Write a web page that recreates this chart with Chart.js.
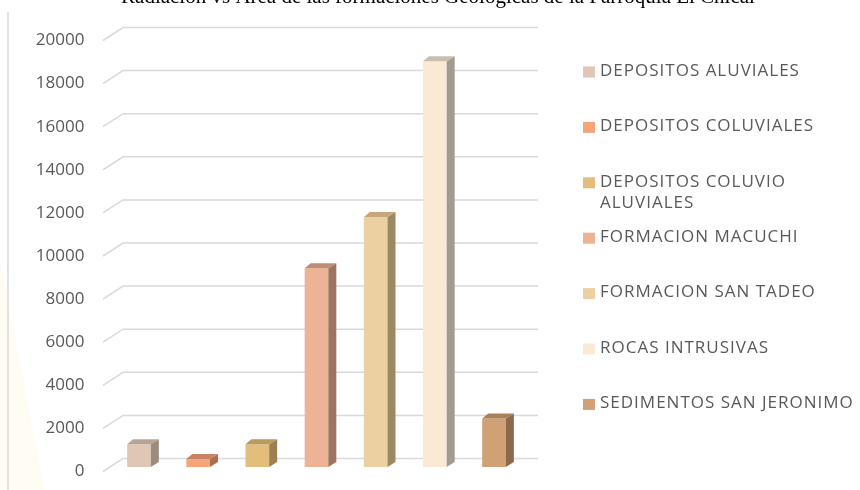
<!DOCTYPE html>
<html>
<head>
<meta charset="utf-8">
<script src="https://cdn.jsdelivr.net/npm/chart.js@4.4.0/dist/chart.umd.min.js"></script>
<style>
    html, body { margin: 0; padding: 0; background: #fff; }
    #wrap { position: relative; width: 860px; height: 490px; }
</style>
</head>
<body>
<div id="wrap"><canvas id="barChart" width="860" height="490"></canvas></div>
<script>
// datos
var chartTitle = 'Radiación vs Área de las formaciones Geológicas de la Parroquia El Chical';
var formaciones = ['DEPOSITOS ALUVIALES', 'DEPOSITOS COLUVIALES', 'DEPOSITOS COLUVIO ALUVIALES',
    'FORMACION MACUCHI', 'FORMACION SAN TADEO', 'ROCAS INTRUSIVAS', 'SEDIMENTOS SAN JERONIMO'];
var legendLines = [['DEPOSITOS ALUVIALES'], ['DEPOSITOS COLUVIALES'], ['DEPOSITOS COLUVIO', 'ALUVIALES'],
    ['FORMACION MACUCHI'], ['FORMACION SAN TADEO'], ['ROCAS INTRUSIVAS'], ['SEDIMENTOS SAN JERONIMO']];
var areas = [1060, 370, 1060, 9220, 11600, 18830, 2250];
var yTicks = [0, 2000, 4000, 6000, 8000, 10000, 12000, 14000, 16000, 18000, 20000];

// colores
var frontColors = ['#e0c6b4', '#f5a47c', '#e3bd7b', '#edb394', '#edd0a1', '#fbe9d6', '#d0a175'];
var sideColors = ['#9c8a7d', '#a9704f', '#9c8050', '#9e7461', '#9c8864', '#a49a8d', '#8c6a49'];
var topColors = ['#b9a395', '#c98360', '#b99a60', '#c08c74', '#c4a87c', '#c9bfb1', '#a98259'];

var grey = '#595959';
var font = '"Open Sans", sans-serif';

var decor = {
    id: 'decor',
    beforeDraw: function (chart) {
        var ctx = chart.ctx;
        ctx.save();
        // marca de agua tenue a la izquierda
        ctx.fillStyle = 'rgba(250, 240, 200, 0.22)';
        ctx.beginPath();
        ctx.moveTo(0, 260);
        ctx.lineTo(45, 490);
        ctx.lineTo(0, 490);
        ctx.closePath();
        ctx.fill();
        ctx.strokeStyle = '#d9d9d9';
        ctx.lineWidth = 1.5;
        ctx.beginPath();
        ctx.moveTo(8, 12);
        ctx.lineTo(8, 490);
        ctx.stroke();
        // titulo (cortado arriba)
        ctx.fillStyle = '#000';
        ctx.font = '21px "Liberation Serif", serif';
        ctx.textAlign = 'center';
        ctx.textBaseline = 'alphabetic';
        ctx.fillText(chartTitle, 438, 3);
        ctx.restore();
    },
    beforeDatasetsDraw: function (chart) {
        var ctx = chart.ctx;
        var ys = chart.scales.y;
        ctx.save();
        ctx.strokeStyle = '#d9d9d9';
        ctx.lineWidth = 1.5;
        yTicks.forEach(function (v) {
            var y = ys.getPixelForValue(v);
            ctx.beginPath();
            ctx.moveTo(103, y);
            ctx.lineTo(123, y - 13);
            ctx.lineTo(538, y - 13);
            ctx.stroke();
        });
        ctx.restore();
        ctx.save();
        ctx.translate(0, -4.5);
    },
    afterDatasetsDraw: function (chart) {
        var ctx = chart.ctx;
        var meta = chart.getDatasetMeta(0);
        var dx = 8, dy = 5;
        meta.data.forEach(function (bar, i) {
            var p = bar.getProps(['x', 'y', 'base', 'width'], true);
            var l = p.x - p.width / 2, r = p.x + p.width / 2;
            ctx.fillStyle = sideColors[i];
            ctx.beginPath();
            ctx.moveTo(r, p.y);
            ctx.lineTo(r + dx, p.y - dy);
            ctx.lineTo(r + dx, p.base - dy);
            ctx.lineTo(r, p.base);
            ctx.closePath();
            ctx.fill();
            ctx.fillStyle = topColors[i];
            ctx.beginPath();
            ctx.moveTo(l, p.y);
            ctx.lineTo(l + dx - 2, p.y - dy);
            ctx.lineTo(r + dx, p.y - dy);
            ctx.lineTo(r, p.y);
            ctx.closePath();
            ctx.fill();
        });
        ctx.restore();
    },
    afterDraw: function (chart) {
        var ctx = chart.ctx;
        ctx.save();
        ctx.font = '17px ' + font;
        ctx.letterSpacing = '1px';
        ctx.textBaseline = 'middle';
        ctx.textAlign = 'left';
        legendLines.forEach(function (lines, i) {
            var y0 = 71 + i * 55.4;
            ctx.fillStyle = frontColors[i];
            ctx.fillRect(583, y0 - 4.5, 12, 11);
            ctx.fillStyle = grey;
            lines.forEach(function (t, j) {
                ctx.fillText(t, 600, y0 + j * 21.7);
            });
        });
        ctx.restore();
    }
};

var barChartCanvas = document.getElementById('barChart').getContext('2d');
var barChart = new Chart(barChartCanvas, {
    type: 'bar',
    data: {
        labels: formaciones,
        datasets: [{
            data: areas,
            backgroundColor: frontColors,
            borderWidth: 0,
            barPercentage: 0.4,
            categoryPercentage: 1
        }]
    },
    options: {
        responsive: false,
        devicePixelRatio: 1,
        animation: false,
        layout: { padding: { top: 40.5, bottom: 18.5, left: 0, right: 336.4 } },
        plugins: { legend: { display: false }, tooltip: { enabled: false } },
        scales: {
            x: { display: false },
            y: {
                min: 0,
                max: 20000,
                afterFit: function (s) {
                    s.width = 109.4;
                    s.paddingTop = 0;
                    s.paddingBottom = 0;
                },
                afterBuildTicks: function (s) {
                    s.ticks = yTicks.map(function (v) { return { value: v }; });
                },
                ticks: {
                    color: grey,
                    font: { family: font, size: 17 },
                    padding: 25,
                    callback: function (v) { return String(v); }
                },
                grid: { display: false, drawTicks: false },
                border: { display: false }
            }
        }
    },
    plugins: [decor]
});
</script>
</body>
</html>
